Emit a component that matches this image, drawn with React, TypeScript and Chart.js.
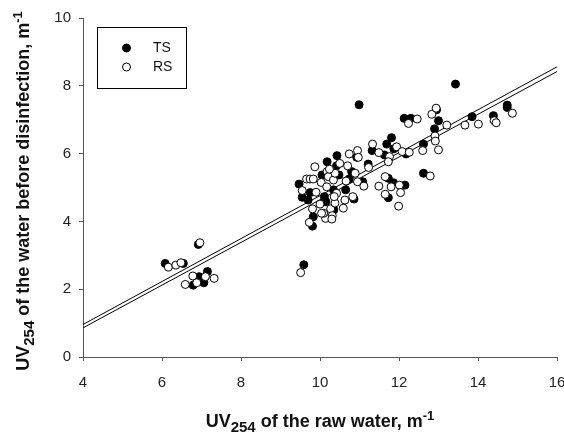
import React, { useEffect, useRef } from "react";
import { Chart, registerables } from "chart.js";

Chart.register(...registerables);

const tsX = [6.08, 6.54, 6.92, 6.79, 6.94, 7.06, 7.15, 9.59, 9.47, 9.55, 9.70, 9.81, 9.83, 9.75, 10.05, 10.11, 10.18, 10.15, 10.35, 10.34, 10.43, 10.42, 10.48, 10.65, 10.74, 10.86, 10.80, 10.93, 10.99, 11.08, 11.22, 11.32, 11.63, 11.73, 11.73, 11.86, 11.69, 11.81, 11.87, 12.15, 12.18, 12.13, 12.30, 12.62, 12.62, 12.90, 13.00, 12.95, 13.43, 13.85, 14.39, 14.74, 14.74];
const tsY = [2.76, 2.76, 3.32, 2.12, 2.37, 2.19, 2.52, 2.72, 5.10, 4.71, 4.63, 3.86, 4.14, 4.85, 5.37, 4.73, 5.76, 4.58, 4.34, 4.93, 5.94, 5.64, 5.37, 4.93, 5.25, 4.66, 5.47, 5.89, 7.44, 5.17, 5.69, 6.09, 5.96, 5.27, 4.70, 5.14, 6.28, 6.47, 6.14, 5.07, 5.99, 7.04, 7.04, 5.42, 6.28, 6.73, 6.97, 7.29, 8.05, 7.09, 7.12, 7.43, 7.36];

const rsX = [6.16, 6.35, 6.48, 6.96, 6.59, 6.78, 6.88, 7.10, 7.32, 9.51, 9.55, 9.66, 9.75, 9.73, 9.81, 9.87, 9.90, 9.83, 10.00, 10.03, 10.14, 10.09, 10.18, 10.21, 10.17, 10.27, 10.31, 10.30, 10.38, 10.42, 10.34, 10.38, 10.50, 10.59, 10.63, 10.66, 10.70, 10.74, 10.83, 10.89, 10.95, 10.95, 10.97, 11.11, 11.23, 11.33, 11.49, 11.49, 11.65, 11.65, 11.80, 11.94, 11.76, 11.73, 11.99, 12.01, 12.04, 12.08, 12.26, 12.24, 12.46, 12.79, 12.60, 12.91, 12.92, 13.00, 12.83, 12.94, 13.21, 13.67, 14.01, 14.41, 14.46, 14.87, 10.24, 10.36, 10.04];
const rsY = [2.65, 2.71, 2.78, 3.37, 2.14, 2.39, 2.19, 2.37, 2.32, 2.49, 4.91, 5.25, 5.25, 3.97, 4.37, 5.61, 4.86, 5.25, 4.51, 5.15, 4.09, 4.24, 5.47, 5.32, 5.02, 4.37, 4.17, 4.07, 4.54, 4.83, 5.22, 5.42, 5.71, 4.39, 4.63, 5.19, 5.64, 5.99, 4.73, 5.42, 5.17, 6.09, 5.89, 5.04, 5.59, 6.28, 6.03, 5.04, 5.32, 4.80, 5.02, 6.20, 5.91, 5.76, 4.45, 5.07, 4.85, 6.06, 6.04, 6.89, 7.02, 5.34, 6.09, 6.52, 6.37, 6.11, 7.16, 7.34, 6.84, 6.84, 6.87, 6.97, 6.91, 7.19, 5.54, 4.73, 4.24];

const lineX = [4, 16];
const lineUpperY = [0.96, 8.56];
const lineLowerY = [0.86, 8.42];

const FONT = "'Liberation Sans', Arial, sans-serif";

type Part = { text: string; size: number; dy: number };

function drawRich(ctx: CanvasRenderingContext2D, parts: Part[], cx: number, baseline: number) {
  let total = 0;
  const widths = parts.map((p) => {
    ctx.font = `bold ${p.size}px ${FONT}`;
    const w = ctx.measureText(p.text).width;
    total += w;
    return w;
  });
  let x = cx - total / 2;
  ctx.textAlign = "left";
  ctx.textBaseline = "alphabetic";
  parts.forEach((p, i) => {
    ctx.font = `bold ${p.size}px ${FONT}`;
    ctx.fillText(p.text, x, baseline + p.dy);
    x += widths[i];
  });
}

const overlayPlugin = {
  id: "overlay",
  afterDraw(chart: any) {
    const ctx: CanvasRenderingContext2D = chart.ctx;
    const area = chart.chartArea;
    ctx.save();
    ctx.fillStyle = "#111";
    // x title
    drawRich(
      ctx,
      [
        { text: "UV", size: 18, dy: 0 },
        { text: "254", size: 15, dy: 5 },
        { text: " of the raw water, m", size: 18, dy: 0 },
        { text: "-1", size: 13, dy: -7 },
      ],
      (area.left + area.right) / 2,
      427
    );
    // y title
    ctx.save();
    ctx.translate(29, 191);
    ctx.rotate(-Math.PI / 2);
    drawRich(
      ctx,
      [
        { text: "UV", size: 18, dy: 0 },
        { text: "254", size: 15, dy: 5 },
        { text: " of the water before disinfection, m", size: 18, dy: 0 },
        { text: "-1", size: 13, dy: -7 },
      ],
      0,
      0
    );
    ctx.restore();

    // legend
    ctx.strokeStyle = "#000";
    ctx.lineWidth = 1;
    ctx.strokeRect(97.5, 27.5, 89, 61);
    ctx.beginPath();
    ctx.arc(126.5, 48, 4, 0, Math.PI * 2);
    ctx.fillStyle = "#000";
    ctx.fill();
    ctx.stroke();
    ctx.beginPath();
    ctx.arc(126.5, 67, 4, 0, Math.PI * 2);
    ctx.fillStyle = "#fff";
    ctx.fill();
    ctx.stroke();
    ctx.fillStyle = "#111";
    ctx.font = `14px ${FONT}`;
    ctx.textAlign = "left";
    ctx.textBaseline = "middle";
    ctx.fillText("TS", 153, 48);
    ctx.fillText("RS", 153, 67);
    ctx.restore();
  },
};

export default function App() {
  const ref = useRef<HTMLCanvasElement | null>(null);
  useEffect(() => {
    if (!ref.current) return;
    const chart = new Chart(ref.current, {
      type: "scatter",
      data: {
        datasets: [
          {
            label: "upper",
            type: "line",
            data: lineX.map((x, i) => ({ x, y: lineUpperY[i] })),
            borderColor: "#000",
            borderWidth: 1,
            pointRadius: 0,
            fill: false,
            order: 5,
          } as any,
          {
            label: "lower",
            type: "line",
            data: lineX.map((x, i) => ({ x, y: lineLowerY[i] })),
            borderColor: "#000",
            borderWidth: 1,
            pointRadius: 0,
            fill: false,
            order: 4,
          } as any,
          {
            label: "TS",
            data: tsX.map((x, i) => ({ x, y: tsY[i] })),
            backgroundColor: "#000",
            borderColor: "#000",
            borderWidth: 1,
            pointRadius: 4,
            order: 3,
          },
          {
            label: "RS",
            data: rsX.map((x, i) => ({ x, y: rsY[i] })),
            backgroundColor: "#fff",
            borderColor: "#000",
            borderWidth: 1,
            pointRadius: 4,
            order: 2,
          },
        ],
      },
      options: {
        animation: false,
        responsive: false,
        maintainAspectRatio: false,
        layout: { padding: { left: 0, top: 18, right: 7, bottom: 0 } },
        plugins: { legend: { display: false }, tooltip: { enabled: false }, title: { display: false } },
        scales: {
          x: {
            type: "linear",
            min: 4,
            max: 16,
            ticks: { stepSize: 2, color: "#222", font: { family: FONT, size: 15 }, padding: 13, maxRotation: 0 },
            grid: { drawOnChartArea: false, tickLength: 4, tickColor: "#555" },
            border: { color: "#555" },
            afterFit: (s: any) => {
              s.height = 77;
              s.paddingLeft = 0;
              s.paddingRight = 0;
            },
          },
          y: {
            type: "linear",
            min: 0,
            max: 10,
            ticks: { stepSize: 2, color: "#222", font: { family: FONT, size: 15 }, padding: 8 },
            grid: { drawOnChartArea: false, tickLength: 4, tickColor: "#555" },
            border: { color: "#555" },
            afterFit: (s: any) => {
              s.width = 83;
              s.paddingTop = 0;
              s.paddingBottom = 0;
            },
          },
        },
      },
      plugins: [overlayPlugin],
    });
    return () => chart.destroy();
  }, []);
  return (
    <div style={{ position: "fixed", left: 0, top: 0, width: 564, height: 434, background: "#fff" }}>
      <canvas ref={ref} width={564} height={434} style={{ display: "block" }} />
    </div>
  );
}
